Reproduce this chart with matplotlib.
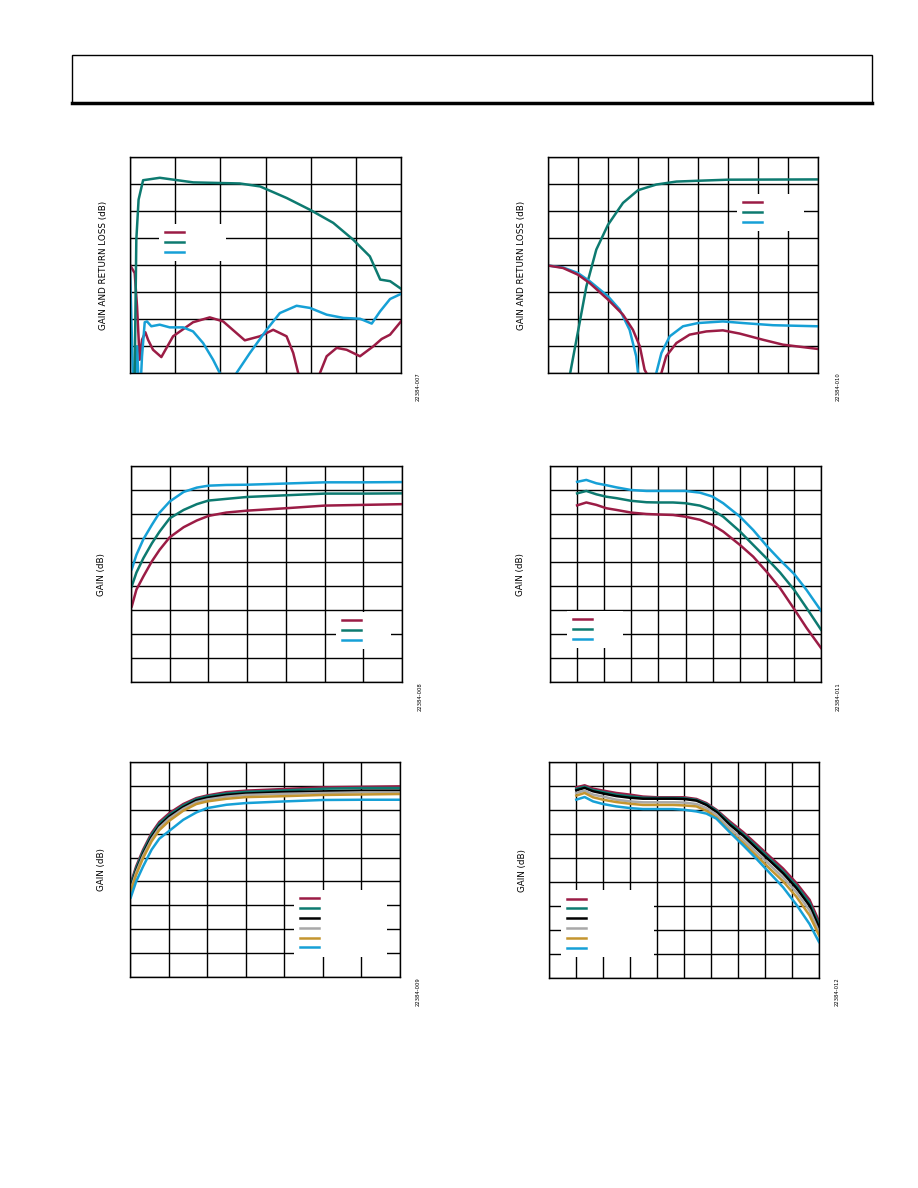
import numpy as np
import matplotlib
matplotlib.use("Agg")
import matplotlib.pyplot as plt
from matplotlib.patches import Rectangle
from matplotlib.lines import Line2D

MAROON = "#9b1c45"
TEAL = "#0d7a70"
CYAN = "#16a0d6"
BLACK = "#000000"
GRAY = "#a8a8a8"
GOLD = "#c4952f"

# ---- plot 1: gain and return loss, wide band
p1_f_gain = [50, 70, 95, 145, 330, 700, 1215, 1440, 1735, 1990, 2250, 2470, 2655, 2770, 2880, 3000]
p1_gain = [-45, 9.4, 24.2, 31.4, 32.3, 30.6, 30.2, 29.1, 24.8, 20.5, 15.6, 9.4, 3.2, -5.4, -6.0, -8.8]
p1_f_s11 = [0, 52, 78, 107, 133, 170, 200, 255, 347, 477, 698, 883, 1031, 1271, 1438, 1585, 1733,
            1807, 1862, 1981, 2103, 2177, 2288, 2398, 2546, 2694, 2786, 2879, 3000]
p1_s11 = [0.0, -3.0, -15.3, -35.1, -27.7, -24.9, -27.7, -31.4, -34.1, -26.4, -21.2, -19.4, -20.9,
          -27.9, -26.4, -24.0, -26.4, -32.6, -40, -52, -40, -33.8, -30.7, -31.4, -33.8, -30.1,
          -27.4, -25.8, -20.9]
p1_f_s22 = [0, 41, 78, 107, 133, 163, 188, 236, 329, 440, 588, 698, 809, 920, 994, 1086, 1179, 1327,
            1512, 1659, 1844, 1992, 2177, 2362, 2546, 2676, 2768, 2879, 3000]
p1_s22 = [-1.0, -52, -30.1, -52, -33.8, -21.2, -20.9, -22.7, -22.1, -23.1, -23.1, -24.6, -28.9,
          -35.1, -40, -52, -40, -32.6, -24.0, -17.8, -15.1, -15.9, -18.4, -19.6, -19.9, -21.7,
          -17.2, -12.6, -10.7]

# ---- plot 2: gain and return loss, low band
p2_f_gain = [65, 74, 100, 128, 161, 200, 250, 300, 361, 428, 500, 600, 900]
p2_gain = [-46, -40, -24.6, -7.9, 5.7, 14.9, 23.0, 27.7, 29.8, 30.9, 31.2, 31.6, 31.7]
p2_f_s11 = [0, 50, 100, 139, 200, 250, 283, 306, 322, 328, 352, 378, 394, 428, 472, 528, 583,
            639, 717, 783, 900]
p2_s11 = [-0.2, -1.1, -3.6, -6.7, -12.8, -18.4, -24.0, -30.1, -38.8, -40, -52, -40, -33.8,
          -28.9, -25.8, -24.6, -24.2, -25.4, -27.7, -29.5, -31.1]
p2_f_s22 = [0, 50, 100, 139, 200, 239, 272, 294, 300, 328, 361, 378, 406, 450, 500, 583, 650, 750, 900]
p2_s22 = [-0.2, -0.9, -3.0, -6.0, -11.6, -16.5, -24.0, -33.8, -40, -52, -40, -32.6, -26.4,
          -22.7, -21.5, -20.9, -21.5, -22.3, -22.7]

# ---- plot 3: gain vs control (three supplies)
p3_x = [0.01, 0.07, 0.16, 0.27, 0.37, 0.50, 0.68, 0.85, 1.0, 1.23, 1.50, 2.0, 2.5, 3.0, 3.5]
p3_a = [3.15, 3.85, 4.40, 5.03, 5.51, 6.03, 6.45, 6.73, 6.92, 7.06, 7.14, 7.24, 7.35, 7.38, 7.41]
p3_b = [3.99, 4.56, 5.16, 5.78, 6.27, 6.82, 7.17, 7.41, 7.56, 7.63, 7.71, 7.78, 7.85, 7.85, 7.86]
p3_c = [4.70, 5.30, 5.95, 6.55, 7.06, 7.52, 7.92, 8.10, 8.18, 8.21, 8.22, 8.27, 8.32, 8.32, 8.33]

# ---- plot 4: gain vs frequency (three supplies)
p4_x = [1.0, 1.34, 1.71, 2.08, 2.45, 2.99, 3.56, 3.99, 4.54, 4.99, 5.53, 5.99, 6.39, 7.01, 7.50,
        8.02, 8.49, 9.01, 9.47, 10.0]
p4_a = [7.36, 7.48, 7.38, 7.24, 7.17, 7.06, 7.00, 6.98, 6.96, 6.89, 6.76, 6.55, 6.27, 5.71, 5.22,
        4.56, 3.91, 3.04, 2.25, 1.42]
p4_b = [7.86, 7.96, 7.82, 7.72, 7.66, 7.55, 7.49, 7.48, 7.48, 7.45, 7.35, 7.17, 6.89, 6.27, 5.71,
        5.12, 4.56, 3.84, 3.08, 2.18]
p4_c = [8.34, 8.42, 8.28, 8.20, 8.11, 8.00, 7.96, 7.96, 7.96, 7.96, 7.89, 7.73, 7.45, 6.89, 6.33,
        5.64, 5.08, 4.50, 3.83, 2.97]

# ---- plot 5: gain vs control (six temperatures)
p5_x = [0.01, 0.08, 0.17, 0.28, 0.38, 0.51, 0.69, 0.86, 1.0, 1.25, 1.5, 2.0, 2.5, 3.0, 3.5]
p5_series = [
    [3.93, 4.63, 5.33, 6.03, 6.49, 6.86, 7.24, 7.49, 7.60, 7.74, 7.80, 7.87, 7.94, 7.96, 7.98],
    [3.86, 4.56, 5.26, 5.96, 6.42, 6.79, 7.18, 7.45, 7.56, 7.68, 7.75, 7.81, 7.88, 7.91, 7.91],
    [3.75, 4.45, 5.16, 5.86, 6.33, 6.72, 7.11, 7.39, 7.50, 7.62, 7.68, 7.74, 7.77, 7.80, 7.80],
    [3.68, 4.38, 5.08, 5.77, 6.25, 6.64, 7.04, 7.32, 7.43, 7.55, 7.62, 7.67, 7.70, 7.73, 7.73],
    [3.58, 4.28, 4.98, 5.68, 6.15, 6.54, 6.96, 7.24, 7.35, 7.46, 7.53, 7.57, 7.62, 7.64, 7.66],
    [3.33, 4.00, 4.63, 5.33, 5.79, 6.12, 6.58, 6.89, 7.07, 7.21, 7.28, 7.35, 7.41, 7.42, 7.42],
]

# ---- plot 6: gain vs frequency (six temperatures)
p6_x = [1.01, 1.32, 1.63, 2.0, 2.49, 3.0, 3.48, 4.0, 4.59, 5.0, 5.46, 5.83, 6.20, 6.69, 7.19,
        7.68, 8.17, 8.67, 9.16, 9.65, 10.0]
p6_series = [
    [7.94, 8.03, 7.89, 7.81, 7.71, 7.64, 7.56, 7.53, 7.53, 7.53, 7.46, 7.29, 7.01, 6.53, 6.08,
     5.58, 5.07, 4.56, 3.96, 3.26, 2.36],
    [7.88, 7.97, 7.83, 7.75, 7.64, 7.57, 7.51, 7.50, 7.50, 7.49, 7.42, 7.25, 6.97, 6.46, 6.00,
     5.49, 4.97, 4.44, 3.85, 3.13, 2.22],
    [7.82, 7.92, 7.78, 7.69, 7.58, 7.51, 7.47, 7.47, 7.47, 7.46, 7.39, 7.21, 6.92, 6.39, 5.93,
     5.40, 4.89, 4.36, 3.75, 3.01, 2.11],
    [7.71, 7.81, 7.64, 7.56, 7.43, 7.36, 7.32, 7.32, 7.32, 7.31, 7.25, 7.08, 6.81, 6.25, 5.76,
     5.25, 4.72, 4.19, 3.58, 2.82, 1.92],
    [7.60, 7.71, 7.53, 7.43, 7.33, 7.26, 7.21, 7.21, 7.21, 7.19, 7.15, 6.97, 6.69, 6.11, 5.63,
     5.10, 4.56, 4.03, 3.39, 2.61, 1.78],
    [7.43, 7.54, 7.36, 7.25, 7.15, 7.08, 7.04, 7.04, 7.04, 7.01, 6.94, 6.85, 6.64, 6.08, 5.53,
     4.97, 4.38, 3.78, 3.06, 2.25, 1.50],
]
six_colors = [MAROON, TEAL, BLACK, GRAY, GOLD, CYAN]

fig_ids = ["22384-007", "22384-010", "22384-008", "22384-011", "22384-009", "22384-012"]

W, H = 918, 1188
fig = plt.figure(figsize=(W / 100, H / 100), dpi=100)


def px_axes(x0, y0, x1, y1):
    return fig.add_axes([x0 / W, 1 - y1 / H, (x1 - x0) / W, (y1 - y0) / H])


def setup(ax, xmax, ncol, ylo, yhi, nrow, ylabel, pad):
    ax.set_xlim(0, xmax)
    ax.set_ylim(ylo, yhi)
    ax.set_xticks(np.linspace(0, xmax, ncol + 1))
    ax.set_yticks(np.linspace(ylo, yhi, nrow + 1))
    ax.tick_params(length=0, labelbottom=False, labelleft=False)
    ax.grid(True, color="black", lw=1.0)
    ax.set_axisbelow(True)
    for s in ax.spines.values():
        s.set_linewidth(1.0)
    ax.set_ylabel(ylabel, fontsize=6.3, labelpad=pad)


def add_legend(ax, colors, x0, y1, textpad):
    handles = [Line2D([], [], color=c, lw=1.8) for c in colors]
    leg = ax.legend(handles, [""] * len(colors), loc="upper left", bbox_to_anchor=(x0, y1),
                    fontsize=5, frameon=True, fancybox=False, edgecolor="none",
                    facecolor="white", framealpha=1, borderpad=0.85, labelspacing=0.55,
                    handlelength=2.7, handletextpad=textpad, borderaxespad=0)
    leg.set_zorder(5)


LW = 1.8

# plot 1
ax1 = px_axes(130, 157, 401, 373)
setup(ax1, 3000, 6, -40, 40, 8, "GAIN AND RETURN LOSS (dB)", 16)
ax1.plot(p1_f_s11, p1_s11, color=MAROON, lw=LW)
ax1.plot(p1_f_s22, p1_s22, color=CYAN, lw=LW)
ax1.plot(p1_f_gain, p1_gain, color=TEAL, lw=LW)
add_legend(ax1, [MAROON, TEAL, CYAN], 0.107, 0.69, 5.2)

# plot 2
ax2 = px_axes(548, 157, 818, 373)
setup(ax2, 900, 9, -40, 40, 8, "GAIN AND RETURN LOSS (dB)", 16)
ax2.plot(p2_f_gain, p2_gain, color=TEAL, lw=LW)
ax2.plot(p2_f_s22, p2_s22, color=CYAN, lw=LW)
ax2.plot(p2_f_s11, p2_s11, color=MAROON, lw=LW)
add_legend(ax2, [MAROON, TEAL, CYAN], 0.70, 0.829, 5.2)

# plot 3
ax3 = px_axes(131, 466, 402, 682)
setup(ax3, 3.5, 7, 0, 9, 9, "GAIN (dB)", 18)
ax3.plot(p3_x, p3_a, color=MAROON, lw=LW)
ax3.plot(p3_x, p3_b, color=TEAL, lw=LW)
ax3.plot(p3_x, p3_c, color=CYAN, lw=LW)
add_legend(ax3, [MAROON, TEAL, CYAN], 0.756, 0.324, 3.6)

# plot 4
ax4 = px_axes(550, 466, 821, 682)
setup(ax4, 10, 10, 0, 9, 9, "GAIN (dB)", 18)
ax4.plot(p4_x, p4_a, color=MAROON, lw=LW)
ax4.plot(p4_x, p4_b, color=TEAL, lw=LW)
ax4.plot(p4_x, p4_c, color=CYAN, lw=LW)
add_legend(ax4, [MAROON, TEAL, CYAN], 0.063, 0.329, 3.6)

# plot 5
ax5 = px_axes(130, 762, 400, 977)
setup(ax5, 3.5, 7, 0, 9, 9, "GAIN (dB)", 17)
for ys, c in zip(p5_series, six_colors):
    ax5.plot(p5_x, ys, color=c, lw=LW)
add_legend(ax5, six_colors, 0.607, 0.405, 9.0)

# plot 6
ax6 = px_axes(549, 762, 819, 978)
setup(ax6, 10, 10, 0, 9, 9, "GAIN (dB)", 16)
for ys, c in zip(p6_series, six_colors):
    ax6.plot(p6_x, ys, color=c, lw=LW)
add_legend(ax6, six_colors, 0.044, 0.407, 9.0)

# figure ids
id_pos = [(418, 387), (838, 387), (420, 697), (838, 697), (418, 992), (837, 992)]
for (x, y), t in zip(id_pos, fig_ids):
    fig.text(x / W, 1 - y / H, t, rotation=90, fontsize=3.8, ha="center", va="center")

# header box
fig.add_artist(Rectangle((72 / W, 1 - 103 / H), 800 / W, 48 / H, transform=fig.transFigure,
                         fill=False, edgecolor="black", lw=1.0))
fig.add_artist(Line2D([72 / W, 872 / W], [1 - 103 / H, 1 - 103 / H], transform=fig.transFigure,
                      color="black", lw=2.5))

fig.savefig("out.png", dpi=100)
